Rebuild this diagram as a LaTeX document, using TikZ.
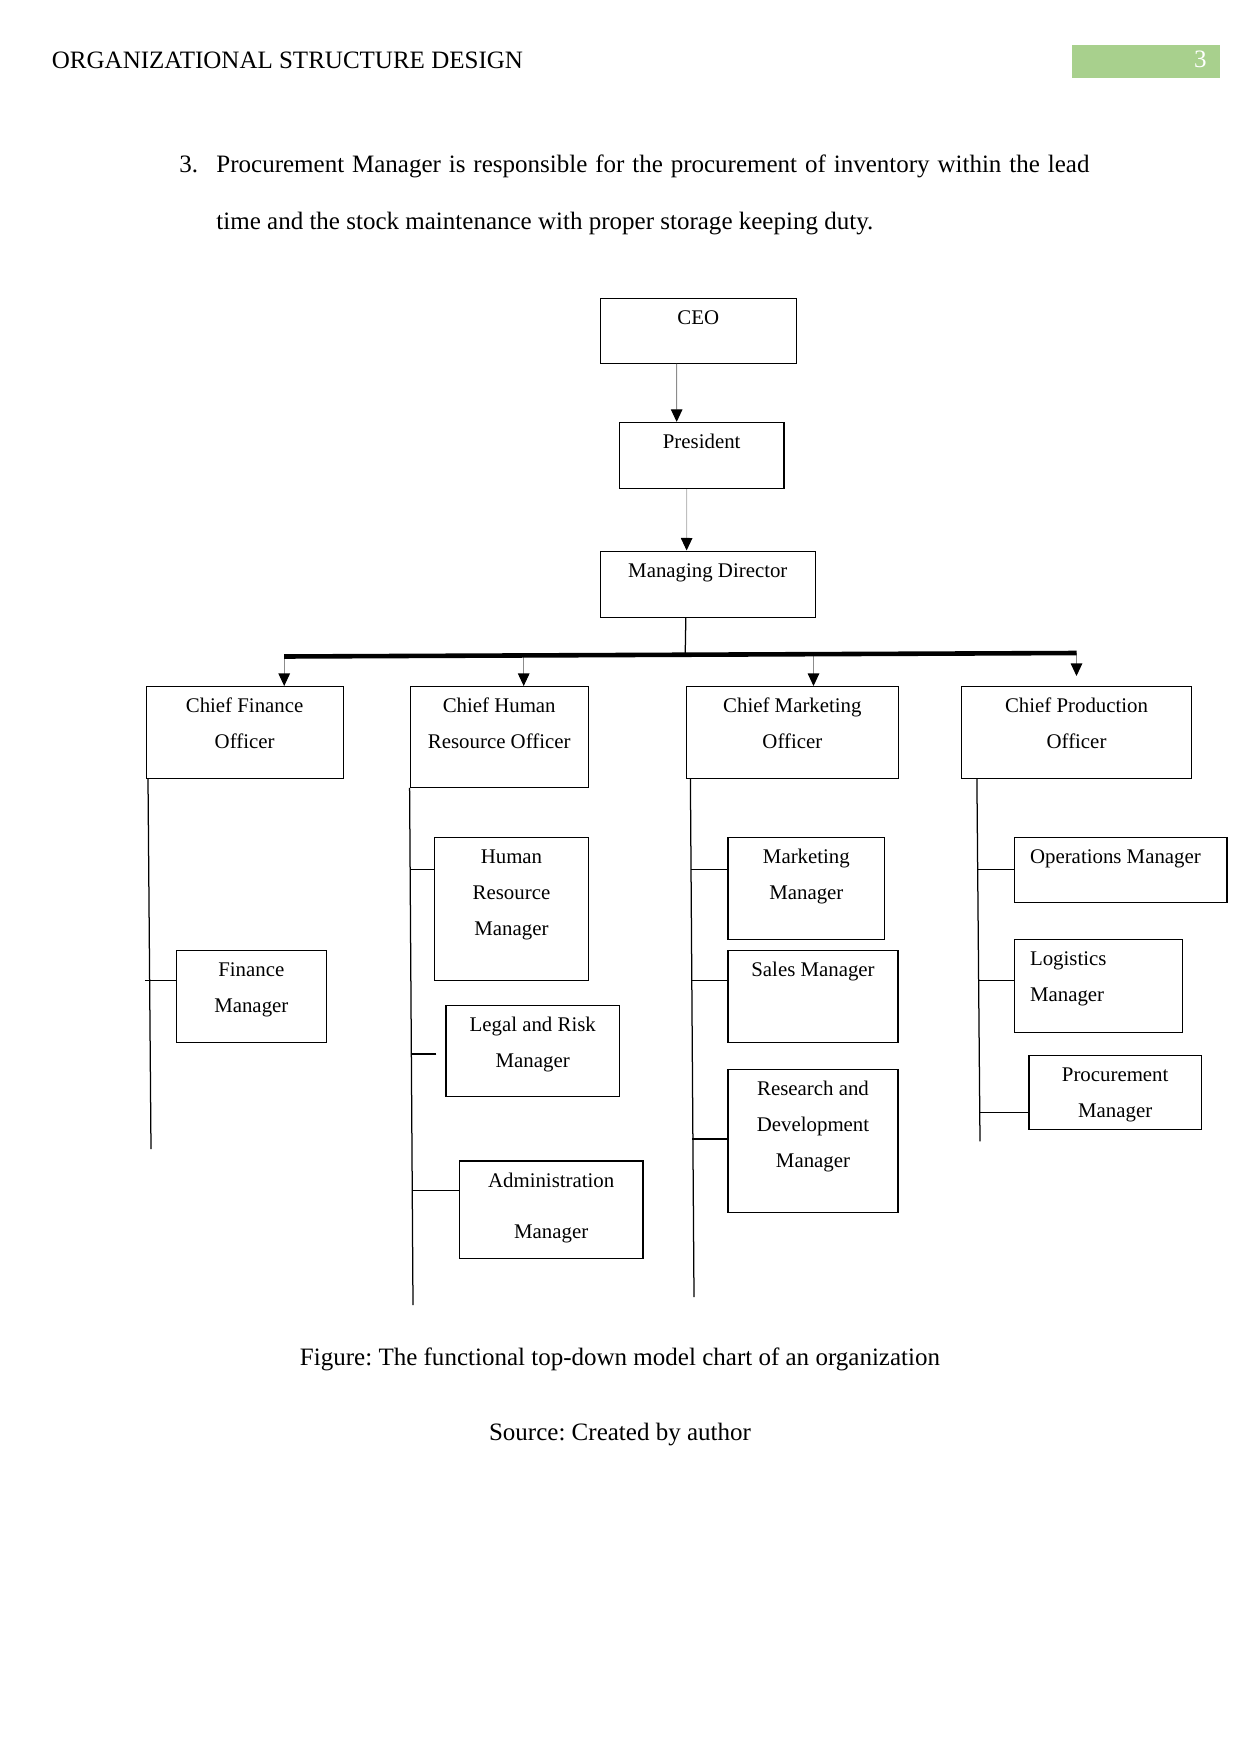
\documentclass[tikz,border=0pt]{standalone}
\usepackage{xcolor}
\usepackage{fontspec}
\setmainfont{Liberation Serif}
\usepackage{tikz}
\usetikzlibrary{arrows.meta,calc}
\definecolor{HeadGreen}{HTML}{A8D08D}
\definecolor{FeedGray}{HTML}{8C8C8C}
\frenchspacing
\newlength\px
\setlength\px{0.4797pt}
\newcommand{\postbox}[4][\centering]{\parbox[c][#3\px][t]{#2\px}{#1\rule{0pt}{12.5pt}#4}}

\begin{document}
\begin{tikzpicture}[x=0.4797pt,y=-0.4797pt,
  txt/.style={inner sep=0pt,anchor=base west,font=\fontsize{12}{14}\selectfont},
  post/.style={draw=black,line width=0.6pt,inner sep=0pt,anchor=north west,font=\fontsize{10}{17.2}\selectfont},
  feed/.style={-{Triangle[length=6pt,width=5.5pt,color=black]},draw=FeedGray,line width=0.5pt},
  spine/.style={draw=black,line width=0.6pt},
  bus/.style={draw=black,line width=2.2pt}
]
\useasboundingbox (0,0) rectangle (1241,1754);
\node[txt] (runhead) at (51.5,68.3) {ORGANIZATIONAL STRUCTURE DESIGN};
\node[fill=HeadGreen,inner sep=0pt,anchor=north west,minimum width=148*\px,minimum height=33*\px] (pagebar) at (1072,45) {};
\node[txt,anchor=base east,text=white] (pageno) at (1207,67.7) {3};
\node[txt] (itemno) at (179,172.8) {3.};
\node[txt] (lineone) at (216,172.8) {\makebox[873\px][s]{Procurement Manager is responsible for the procurement of inventory within the lead}};
\node[txt] (linetwo) at (216,229.9) {time and the stock maintenance with proper storage keeping duty.};
\node[post] (ceo) at (599.8,297.7) {\postbox{195.8}{64.9}{CEO}};
\node[post] (pres) at (618.8,421.9) {\postbox{164.5}{66}{President}};
\node[post] (md) at (599.8,550.5) {\postbox{214.8}{66}{Managing Director}};
\node[post] (cfo) at (145.5,686) {\postbox{197}{91.7}{Chief Finance\\Officer}};
\node[post] (chro) at (409.6,686) {\postbox{178}{100.7}{Chief Human\\Resource Officer}};
\node[post] (cmo) at (686,686) {\postbox{211.5}{91.7}{Chief Marketing\\Officer}};
\node[post] (cpo) at (961.2,686) {\postbox{229.4}{91.7}{Chief Production\\Officer}};
\node[post] (finm) at (175.7,950) {\postbox{150}{91.8}{Finance\\Manager}};
\node[post] (hrm) at (434.2,837) {\postbox{153.3}{143.2}{Human\\Resource\\Manager}};
\node[post] (legal) at (445.4,1004.9) {\postbox{173.4}{90.6}{Legal and Risk\\Manager}};
\node[post] (admin) at (458.8,1160.4) {\postbox{183.5}{97.4}{Administration\\[7.6pt]Manager}};
\node[post] (mktm) at (727.4,837) {\postbox{156.7}{101.8}{Marketing\\Manager}};
\node[post] (sales) at (727.4,950) {\postbox{170}{91.8}{Sales Manager}};
\node[post] (rnd) at (727.4,1068.6) {\postbox{170}{143.3}{Research and\\Development\\Manager}};
\node[post] (ops) at (1013.8,837) {\postbox[\raggedright\leftskip=7.5pt\relax]{212.6}{65}{Operations Manager}};
\node[post] (logi) at (1013.8,938.8) {\postbox[\raggedright\leftskip=7.5pt\relax]{168}{93}{Logistics\\Manager}};
\node[post] (proc) at (1028.4,1055.2) {\postbox{172.3}{73.8}{Procurement\\Manager}};
\coordinate (busW) at (284.2,656.5);
\coordinate (busHR) at (523.7,655.8);
\coordinate (busMD) at (685.2,655);
\coordinate (busMK) at (813.5,654.5);
\coordinate (busE) at (1076.5,653);
\draw[feed] ($(ceo.south)+(-21.7,0)$) -- ($(pres.north)+(-25,0)$);
\draw[feed,draw=gray!50] ($(pres.south)+(-15,0)$) -- ($(md.north)+(-21.2,0)$);
\draw[spine] ($(md.south)+(-22,0)$) -- (busMD);
\draw[feed] (busW) -- (busW |- cfo.north);
\draw[feed] (busHR) -- (busHR |- chro.north);
\draw[feed] (busMK) -- (busMK |- cmo.north);
\draw[feed] (busE) -- ($(busE |- cpo.north)+(0,-10)$);
\draw[bus] (busW) -- (busE);
\coordinate (cfoEnd) at (151,1149);
\coordinate (chroEnd) at (413,1305);
\coordinate (cmoEnd) at (694,1297);
\coordinate (cpoEnd) at (980,1141.4);
\draw[spine] ($(cfo.south west)+(2.5,0)$) -- (cfoEnd);
\draw[spine] ($(finm.north west)+(0,30.2)$) -- ++(-31,0);
\draw[spine] (chro.south west) -- (chroEnd);
\draw[spine] ($(hrm.north west)+(0,32.5)$) -- ++(-24,0);
\draw[spine] ($(legal.north west)+(-9,49)$) -- ++(-25,0);
\draw[spine] ($(admin.north west)+(0,30.2)$) -- ++(-47,0);
\draw[spine] ($(cmo.south west)+(4.4,0)$) -- (cmoEnd);
\draw[spine] ($(mktm.north west)+(0,32.5)$) -- ++(-36,0);
\draw[spine] ($(sales.north west)+(0,30.2)$) -- ++(-36,0);
\draw[spine] ($(rnd.north west)+(0,70.4)$) -- ++(-35,0);
\draw[spine] ($(cpo.south west)+(15.7,0)$) -- (cpoEnd);
\draw[spine] ($(ops.north west)+(0,32.5)$) -- ++(-36,0);
\draw[spine] ($(logi.north west)+(0,41.4)$) -- ++(-36,0);
\draw[spine] ($(proc.north west)+(0,57)$) -- ++(-49,0);
\node[txt,anchor=base] (caption) at (620,1365) {Figure: The functional top-down model chart of an organization};
\node[txt,anchor=base] (source) at (620,1440) {Source: Created by author};
\end{tikzpicture}
\end{document}
